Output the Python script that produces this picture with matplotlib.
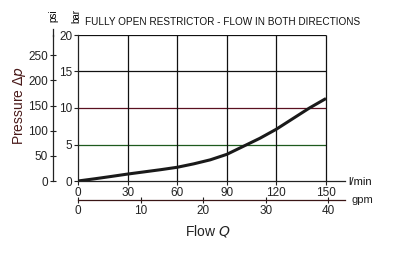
import numpy as np
import matplotlib
matplotlib.use('Agg')
from matplotlib import pyplot as plt

plt.rcParams['font.family'] = ['Liberation Sans', 'DejaVu Sans']

# flow (l/min) vs pressure drop (bar)
flow = [0, 10, 20, 30, 40, 50, 60, 70, 80, 90, 100, 110, 120, 130, 140, 150]
dp_bar = [0, 0.3, 0.62, 0.95, 1.25, 1.55, 1.88, 2.35, 2.9, 3.65, 4.75,
          5.85, 7.1, 8.55, 10.0, 11.3]

bar_ticks = [0, 5, 10, 15, 20]
psi_ticks = [0, 50, 100, 150, 200, 250]
lpm_ticks = [0, 30, 60, 90, 120, 150]
gpm_ticks = [0, 10, 20, 30, 40]

title = 'FULLY OPEN RESTRICTOR - FLOW IN BOTH DIRECTIONS'

PSI = 14.5038
GAL = 3.78541

fig = plt.figure(figsize=(3.94, 2.54), dpi=100)
ax = fig.add_axes([78/394, 1-181/254, (345-78)/394, (181-35)/254])
ax.set_xlim(0, 161.5)
ax.set_ylim(0, 20)

# grid
hcol = {5: '#1d5a1d', 10: '#5a1020', 15: '#111111', 20: '#111111'}
for y in bar_ticks[1:]:
    ax.hlines(y, 0, 150, color=hcol[y], lw=0.9, zorder=1)
for x in lpm_ticks[1:]:
    ax.vlines(x, 0, 20, color='#111111', lw=0.9, zorder=1)

ax.plot(flow, dp_bar, color='#1a1a1a', lw=2.2, zorder=3, solid_capstyle='butt')

for s in ['top', 'right']:
    ax.spines[s].set_visible(False)
for s in ['left', 'bottom']:
    ax.spines[s].set_color('#222222')
    ax.spines[s].set_linewidth(0.9)

ax.set_yticks(bar_ticks)
ax.set_xticks(lpm_ticks)
ax.tick_params(axis='both', labelsize=8.5, length=3, width=0.8, direction='out',
               pad=1, colors='#222222')

# psi axis
sy = ax.secondary_yaxis(-25/267, functions=(lambda b: b*PSI, lambda p: p/PSI))
sy.set_yticks(psi_ticks)
sy.spines['left'].set_color('#222222')
sy.spines['left'].set_linewidth(0.9)
sy.tick_params(labelsize=8.5, length=5, width=0.8, direction='inout', pad=1,
               colors='#222222')
fig.add_artist(plt.Line2D([53/394, 53/394], [1-36/254, 1-29/254],
                          color='#222222', lw=0.9))

# gpm axis
sx = ax.secondary_xaxis(-19/146, functions=(lambda q: q/GAL, lambda g: g*GAL))
sx.set_xticks(gpm_ticks)
sx.spines['bottom'].set_color('#3a1515')
sx.spines['bottom'].set_linewidth(0.9)
sx.tick_params(labelsize=8.5, length=5, width=0.8, direction='inout', pad=1,
               colors='#222222')

fig.text(85/394, 1-22/254, title, fontsize=7.2, va='center', ha='left', color='#111111')
fig.text(53/394, 1-16/254, 'psi', rotation=90, fontsize=7, va='center', ha='center')
fig.text(76/394, 1-16/254, 'bar', rotation=90, fontsize=7, va='center', ha='center')
fig.text(348/394, 1-182/254, 'l/min', fontsize=8, va='center', ha='left', color='#111111')
fig.text(351/394, 1-200/254, 'gpm', fontsize=8, va='center', ha='left', color='#222222')
fig.text(19/394, 1-105/254, r'Pressure $\Delta p$', rotation=90, fontsize=10,
         va='center', ha='center', color='#4a1a1a')
fig.text(208/394, 1-231/254, r'Flow $Q$', fontsize=10, va='center', ha='center',
         color='#222222')

fig.savefig('out.png', dpi=100)
